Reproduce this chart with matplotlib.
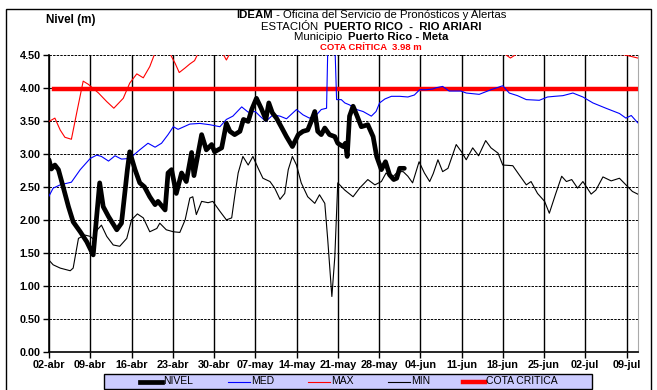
import matplotlib
matplotlib.use('Agg')
import matplotlib.pyplot as plt
from matplotlib.patches import Rectangle
from matplotlib.lines import Line2D

plt.rcParams['font.family'] = ['Liberation Sans', 'DejaVu Sans']

# dias contados desde el 02-abr
tick_labels = ['02-abr', '09-abr', '16-abr', '23-abr', '30-abr', '07-may', '14-may',
               '21-may', '28-may', '04-jun', '11-jun', '18-jun', '25-jun', '02-jul', '09-jul']

nivel_d = [0, 0.4, 1.0, 1.6, 2.4, 3.3, 4.1, 5.3, 6.4, 7.5, 8.6, 9.2, 10.1, 11.5, 12.3, 13.3,
           13.7, 14.6, 15.4, 16.2, 17.1, 18.0, 18.5, 19.7, 20.2, 20.8, 21.6, 22.5, 23.3, 24.2,
           24.6, 25.9, 26.7, 27.6, 28.1, 29.3, 30.1, 30.7, 31.5, 32.4, 33.0, 33.8, 34.4, 35.2,
           36.0, 36.8, 37.3, 37.9, 38.6, 39.4, 40.3, 41.3, 42.3, 43.1, 43.9, 44.5, 45.1, 45.6,
           46.2, 46.8, 47.6, 48.5, 49.0, 49.9, 50.3, 50.6, 51.0, 51.6, 52.2, 53.0, 54.1, 55.0,
           55.6, 56.4, 57.1, 57.8, 58.5, 59.0, 59.5, 60.3]
nivel_v = [2.91, 2.77, 2.83, 2.76, 2.50, 2.20, 1.97, 1.82, 1.67, 1.47, 2.56, 2.20, 2.05, 1.85,
           1.95, 2.76, 3.03, 2.76, 2.56, 2.50, 2.35, 2.23, 2.28, 2.15, 2.71, 2.76, 2.40, 2.71,
           2.58, 3.02, 2.67, 3.29, 3.06, 3.14, 3.03, 3.09, 3.46, 3.34, 3.29, 3.34, 3.52, 3.49,
           3.67, 3.84, 3.69, 3.52, 3.77, 3.62, 3.54, 3.41, 3.26, 3.11, 3.29, 3.34, 3.36, 3.49,
           3.64, 3.34, 3.29, 3.39, 3.29, 3.26, 3.16, 3.11, 3.16, 2.96, 3.57, 3.72, 3.59, 3.41,
           3.44, 3.26, 2.96, 2.76, 2.88, 2.68, 2.61, 2.63, 2.78, 2.78]

med_d = [0, 0.7, 1.9, 3.8, 5.3, 7.0, 8.1, 8.9, 10.1, 11.2, 12.3, 13.7, 15.4, 16.8, 18.0, 19.1,
         20.2, 21.1, 21.9, 23.9, 25.6, 27.3, 29.0, 30.1, 31.2, 32.7, 33.8, 35.0, 35.8, 36.8,
         38.0, 39.2, 40.3, 42.0, 43.1, 44.2, 45.4, 46.2, 47.1, 47.4, 48.4, 48.8, 49.6, 50.2,
         51.0, 52.2, 53.3, 54.7, 55.5, 56.1, 57.0, 58.1, 59.5, 60.9, 62.0, 62.9, 64.0, 65.1,
         65.7, 66.8, 67.9, 69.9, 70.8, 73.0, 75.0, 77.0, 78.1, 79.5, 81.0, 83.2, 84.6, 85.8,
         87.2, 88.9, 90.6, 92.3, 94.5, 96.8, 97.9, 98.8, 99.9]
med_v = [2.36, 2.48, 2.53, 2.57, 2.76, 2.93, 2.98, 2.96, 2.89, 2.97, 2.92, 2.93, 3.06, 3.16,
         3.10, 3.16, 3.29, 3.41, 3.37, 3.45, 3.46, 3.44, 3.41, 3.52, 3.57, 3.71, 3.63, 3.64,
         3.57, 3.49, 3.59, 3.57, 3.53, 3.67, 3.59, 3.54, 3.59, 3.67, 3.69, 5.00, 5.00, 3.82,
         3.82, 3.77, 3.74, 3.67, 3.64, 3.57, 3.64, 3.77, 3.83, 3.87, 3.87, 3.86, 3.89, 3.97,
         3.97, 3.98, 4.00, 4.02, 3.95, 3.95, 3.92, 3.90, 3.97, 4.03, 3.92, 3.88, 3.82, 3.81,
         3.86, 3.87, 3.88, 3.92, 3.86, 3.77, 3.69, 3.61, 3.54, 3.58, 3.47]

max_d = [0, 1.0, 1.9, 2.7, 3.8, 4.7, 5.8, 6.7, 8.4, 9.8, 11.0, 12.6, 13.7, 14.9, 16.0, 17.1,
         18.0, 19.2, 20.5, 21.4, 22.1, 23.1, 23.9, 24.7, 25.3, 26.2, 27.1, 28.0, 29.3, 30.1,
         30.7, 32.0, 35.0, 40.0, 45.0, 50.0, 54.8, 56.0, 62.0, 68.0, 73.0, 77.5, 78.3, 79.2,
         82.0, 88.0, 93.0, 95.9, 97.5, 98.5, 99.9]
max_v = [3.49, 3.54, 3.36, 3.25, 3.22, 3.62, 4.10, 4.05, 3.92, 3.79, 3.69, 3.84, 4.07, 4.21,
         4.15, 4.32, 4.53, 4.65, 4.52, 4.37, 4.23, 4.30, 4.36, 4.41, 4.52, 4.60, 4.50, 4.58,
         4.55, 4.42, 4.52, 4.65, 4.70, 4.62, 4.70, 4.65, 4.50, 4.60, 4.70, 4.65, 4.70, 4.50,
         4.45, 4.50, 4.65, 4.70, 4.60, 4.51, 4.50, 4.48, 4.45]

min_d = [0, 0.7, 1.9, 3.6, 4.1, 5.0, 6.1, 7.0, 7.5, 8.2, 8.9, 9.8, 10.9, 12.0, 13.2, 14.0,
         15.0, 16.0, 17.1, 18.3, 18.8, 19.9, 21.1, 22.2, 23.1, 23.9, 24.4, 25.0, 25.9, 27.0,
         27.8, 29.0, 30.1, 31.0, 31.5, 32.1, 32.9, 33.8, 34.6, 35.5, 36.3, 37.5, 38.3, 39.2,
         40.0, 40.6, 41.3, 42.0, 42.8, 43.9, 45.1, 45.9, 46.8, 47.3, 48.0, 48.5, 49.0, 50.2,
         51.6, 52.7, 54.1, 55.3, 56.4, 57.2, 58.1, 59.2, 60.1, 60.9, 61.7, 62.8, 63.7, 64.6,
         65.2, 66.0, 66.8, 67.7, 69.1, 70.0, 70.8, 71.9, 72.9, 74.1, 75.0, 76.2, 77.0, 78.7,
         79.8, 81.0, 81.8, 82.9, 84.1, 84.9, 86.0, 87.0, 87.8, 88.7, 89.7, 90.6, 92.0, 92.8,
         94.0, 95.4, 96.8, 97.9, 99.0, 99.9]
min_v = [1.39, 1.32, 1.27, 1.23, 1.27, 1.72, 1.77, 1.75, 1.71, 1.85, 1.92, 1.75, 1.62, 1.60,
         1.72, 2.00, 2.09, 2.03, 1.82, 1.87, 1.95, 1.85, 1.82, 1.81, 2.00, 2.33, 2.35, 2.08,
         2.28, 2.26, 2.28, 2.13, 2.00, 2.03, 2.35, 2.71, 2.96, 2.83, 2.96, 2.78, 2.63, 2.58,
         2.48, 2.31, 2.40, 2.76, 2.96, 2.83, 2.56, 2.35, 2.25, 2.38, 2.25, 1.70, 0.84, 1.44,
         2.56, 2.45, 2.35, 2.48, 2.61, 2.53, 2.58, 2.71, 2.63, 2.73, 2.73, 2.66, 2.56, 2.88,
         2.71, 2.58, 2.70, 2.91, 2.73, 2.78, 3.14, 3.03, 2.91, 3.09, 2.97, 3.20, 3.09, 3.01,
         2.83, 2.82, 2.68, 2.53, 2.58, 2.40, 2.28, 2.10, 2.40, 2.66, 2.58, 2.61, 2.48, 2.58,
         2.39, 2.45, 2.65, 2.59, 2.63, 2.53, 2.43, 2.39]

cota = 3.98
cota_d = [0.9, 100]

W, H = 657, 390
fig = plt.figure(figsize=(W / 100, H / 100), dpi=100)
ax = fig.add_axes([49 / W, 1 - 352 / H, (638.3 - 49) / W, (352 - 54.7) / H])

ax.plot(cota_d, [cota] * len(cota_d), color='#ff0000', lw=3.2, label='COTA CRITICA', zorder=3)
ax.plot(min_d, min_v, color='black', lw=0.8, label='MIN', zorder=4)
ax.plot(max_d, max_v, color='#ff0000', lw=0.8, label='MAX', zorder=4)
ax.plot(med_d, med_v, color='#0000ff', lw=0.8, label='MED', zorder=5)
ax.plot(nivel_d, nivel_v, color='black', lw=3.4, label='NIVEL', zorder=6,
        solid_joinstyle='round', solid_capstyle='round')

ax.set_xlim(0, 100)
ax.set_ylim(0, 4.5)
ax.set_xticks(range(0, 99, 7))
ax.set_xticklabels(tick_labels, fontsize=7.8, fontweight='bold')
yt = [i * 0.5 for i in range(10)]
ax.set_yticks(yt)
ax.set_yticklabels(['%.2f' % v for v in yt], fontsize=7.8, fontweight='bold')
ax.tick_params(direction='out', length=4, width=1, pad=2)
ax.grid(axis='x', color='black', lw=1.0, ls='-')
ax.grid(axis='y', color='black', lw=0.7, ls=(0, (2.5, 1.2)))
ax.set_axisbelow(True)
ax.spines['top'].set_visible(False)
ax.spines['right'].set_color('#aaaaaa')
ax.spines['left'].set_linewidth(1.2)
ax.spines['bottom'].set_linewidth(1.2)

renderer = fig.canvas.get_renderer()


def text_width(s, **kw):
    # ancho en px incluyendo espacios iniciales/finales
    a = fig.text(0, 0, 'x' + s + 'x', **kw)
    b = fig.text(0, 0, 'xx', **kw)
    w = a.get_window_extent(renderer).width - b.get_window_extent(renderer).width
    a.remove()
    b.remove()
    return w


def header_line(y, pieces, size, color='black', cx=371):
    widths = [text_width(s, fontsize=size, fontweight=wt) for s, wt in pieces]
    x = cx - sum(widths) / 2
    for (s, wt), w in zip(pieces, widths):
        fig.text(x / W, 1 - y / H, s, fontsize=size, fontweight=wt, color=color,
                 ha='left', va='center')
        x += w


fig.text(46 / W, 1 - 19.5 / H, 'Nivel (m)', fontsize=8.4, fontweight='bold', va='center')
header_line(15.0, [('IDEAM', 'bold'), (' - Oficina del Servicio de Pronósticos y Alertas', 'normal')], 8.2)
header_line(26.5, [('ESTACIÓN  ', 'normal'), ('PUERTO RICO  -  RIO ARIARI', 'bold')], 8.2)
header_line(37.5, [('Municipio  ', 'normal'), ('Puerto Rico - Meta', 'bold')], 8.2)
header_line(47.5, [('COTA CRÍTICA  3.98 m', 'bold')], 6.8, color='#ff0000')

# leyenda (cuadro lila con cinco entradas igualmente espaciadas)
fig.add_artist(Rectangle((104 / W, 1 - 389 / H), 488 / W, 15 / H, transform=fig.transFigure,
                         facecolor='#ccccff', edgecolor='black', lw=1.0))
handles, labels = ax.get_legend_handles_labels()
hmap = dict(zip(labels, handles))
order = ['NIVEL', 'MED', 'MAX', 'MIN', 'COTA CRITICA']
leg_x = [140, 228, 308, 388, 463]
ly = 1 - 381.5 / H
for name, x0 in zip(order, leg_x):
    h = hmap[name]
    fig.add_artist(Line2D([x0 / W, (x0 + 22) / W], [ly, ly], transform=fig.transFigure,
                          color=h.get_color(), lw=h.get_linewidth()))
    fig.text((x0 + 23) / W, ly, name, fontsize=7.5, ha='left', va='center')

fig.add_artist(Rectangle((6 / W, -0.05), (651 - 6) / W, 1.05 - 9 / H,
                         transform=fig.transFigure, fill=False, edgecolor='black', lw=1))

fig.savefig('out.png', dpi=100)
